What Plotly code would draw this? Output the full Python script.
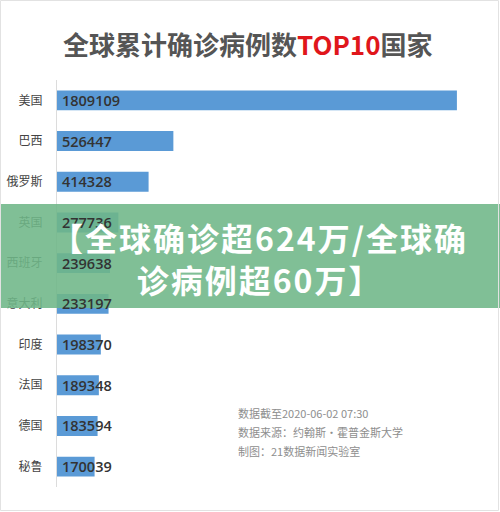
import plotly.graph_objects as go

countries = ["美国", "巴西", "俄罗斯", "英国", "西班牙", "意大利", "印度", "法国", "德国", "秘鲁"]
cases = [1809109, 526447, 414328, 277736, 239638, 233197, 198370, 189348, 183594, 170039]
title_parts = ["全球累计确诊病例数", "TOP10", "国家"]
banner_lines = ["【全球确诊超624万/全球确", "诊病例超60万】"]
notes = ["数据截至2020-06-02 07:30", "数据来源：约翰斯·霍普金斯大学", "制图：21数据新闻实验室"]

W, H = 500, 512
L, R, T, B = 57, 23, 80, 25
PW, PH = W - L - R, H - T - B

def px(x):
    return (x - L) / PW

def py(y):
    return (H - B - y) / PH

FONT = "Noto Sans CJK SC"

fig = go.Figure()
fig.add_trace(go.Bar(
    y=countries, x=cases, orientation="h",
    marker=dict(color="#5a9ad6", line=dict(width=0)),
    width=0.49, hoverinfo="skip",
))

shapes = [
    dict(type="rect", xref="paper", yref="paper", x0=px(-2), x1=px(502), y0=py(308), y1=py(204),
         fillcolor="rgba(110,182,136,0.88)", line=dict(width=0), layer="above"),
    dict(type="rect", xref="paper", yref="paper", x0=px(0.5), x1=px(498.5), y0=py(510.5), y1=py(0.5),
         fillcolor="rgba(0,0,0,0)", line=dict(width=1, color="#e2e2e2"), layer="above"),
]

annotations = []
for c, v in zip(countries, cases):
    annotations.append(dict(xref="x", yref="y", x=0, y=c, xanchor="left", yanchor="middle",
                            xshift=3, text=str(v), showarrow=False,
                            font=dict(family="Open Sans", size=14.5, color="#333333", weight=600)))

banner_text = "<br>".join(f"<b><span style='letter-spacing:2px'>{t}</span></b>" for t in banner_lines)
annotations += [
    dict(xref="paper", yref="paper", x=px(248), y=py(43), xanchor="center", yanchor="middle",
         text=f"<b>{title_parts[0]}<span style='color:#e0161b'>{title_parts[1]}</span>{title_parts[2]}</b>",
         showarrow=False, font=dict(family=FONT, size=26, color="#555555")),
    dict(xref="paper", yref="paper", x=px(259), y=py(258), xanchor="center", yanchor="middle",
         text=banner_text, align="center", showarrow=False,
         font=dict(family=FONT, size=32, color="#ffffff")),
]
for i, note in enumerate(notes):
    annotations.append(dict(xref="paper", yref="paper", x=px(236), y=py(413 + 19 * i),
                            xanchor="left", yanchor="middle", text=note, showarrow=False,
                            font=dict(family=FONT, size=11, color="#8e8e8e")))

fig.update_layout(
    width=W, height=H, margin=dict(l=L, r=R, t=T, b=B, autoexpand=False),
    paper_bgcolor="white", plot_bgcolor="white", showlegend=False,
    shapes=shapes, annotations=annotations,
    xaxis=dict(range=[0, 1900000], visible=False, fixedrange=True, automargin=False),
    yaxis=dict(type="category", autorange="reversed", showline=True, linecolor="#dcdcdc",
               linewidth=1, showgrid=False, ticks="", ticklabelstandoff=11, automargin=False,
               tickfont=dict(family=FONT, size=12, color="#444444"), fixedrange=True),
)
fig.write_html("out.html", config={"displayModeBar": False},
               post_script="document.body.style.margin='0';document.body.style.overflow='hidden';")
